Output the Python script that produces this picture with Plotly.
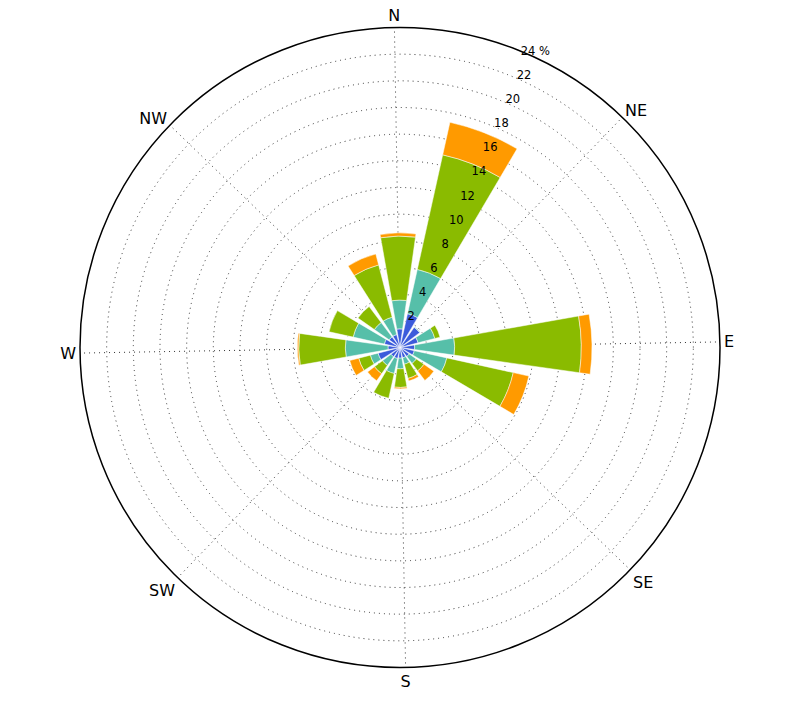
import plotly.graph_objects as go

directions = ["N", "NNE", "NE", "ENE", "E", "ESE", "SE", "SSE",
              "S", "SSW", "SW", "WSW", "W", "WNW", "NW", "NNW"]
theta_deg = [0, 22.5, 45, 67.5, 90, 112.5, 135, 157.5,
             180, 202.5, 225, 247.5, 270, 292.5, 315, 337.5]

# frequency (%) per speed bin, stacked
bin1 = [1.4, 2.6, 1.85, 1.4, 1.1, 1.1, 0.85, 0.8, 0.8, 0.85, 0.85, 1.7, 0.9, 1.2, 1.0, 1.0]
bin2 = [2.16, 3.4, 0.05, 1.3, 3.0, 2.5, 0.65, 0.5, 0.8, 1.15, 0.8, 0.6, 3.2, 2.4, 1.35, 1.35]
bin3 = [4.8, 8.8, 0.0, 0.4, 9.5, 5.1, 0.7, 1.1, 1.4, 1.9, 0.75, 0.9, 3.5, 1.85, 1.5, 4.05]
bin4 = [0.24, 2.5, 0.0, 0.0, 0.8, 1.2, 0.9, 0.2, 0.1, 0.0, 0.65, 0.7, 0.1, 0.0, 0.0, 0.85]

colors = ["#3b5bdb", "#56bfa9", "#8abb00", "#ff9a00"]
angle_ticks = [0, 45, 90, 135, 180, 225, 270, 315]
angle_labels = ["N", "NE", "E", "SE", "S", "SW", "W", "NW"]
r_ticks = [2, 4, 6, 8, 10, 12, 14, 16, 18, 20, 22, 24]
r_labels = ["2", "4", "6", "8", "10", "12", "14", "16", "18", "20", "22", "24 %"]

fig = go.Figure()
for vals, col in zip([bin1, bin2, bin3, bin4], colors):
    fig.add_trace(go.Barpolar(
        r=vals, theta=theta_deg, width=18,
        marker=dict(color=col, line=dict(color="white", width=0.5)),
        showlegend=False, hoverinfo="skip"))

# radial tick labels, drawn just outside each ring along one bearing
label_theta = 26
fig.add_trace(go.Scatterpolar(
    r=r_ticks, theta=[label_theta] * len(r_ticks),
    mode="text", text=r_labels, textposition="top center",
    textfont=dict(size=11.5, family="DejaVu Sans", color="black"),
    cliponaxis=False, showlegend=False, hoverinfo="skip"))

W, H = 800, 707
fig.update_layout(
    width=W, height=H,
    margin=dict(l=0, r=0, t=0, b=0),
    paper_bgcolor="white",
    font=dict(family="DejaVu Sans", color="black"),
    polar=dict(
        domain=dict(x=[80 / W, 720 / W], y=[39.5 / H, 679.5 / H]),
        bgcolor="white",
        barmode="stack",
        bargap=0,
        angularaxis=dict(
            direction="clockwise", rotation=91,
            tickmode="array", tickvals=angle_ticks, ticktext=angle_labels,
            tickfont=dict(size=16, family="DejaVu Sans"),
            showline=True, linecolor="black", linewidth=1.5,
            showgrid=True, gridcolor="#333", griddash="1px,4px", gridwidth=1,
            ticks="",
        ),
        radialaxis=dict(
            range=[0, 24], angle=67,
            tickmode="array", tickvals=r_ticks,
            showticklabels=False,
            showline=False, ticks="",
            showgrid=True, gridcolor="#333", griddash="1px,4px", gridwidth=1,
        ),
    ),
)

fig.write_html("out.html",
               config={"displayModeBar": False},
               post_script="document.body.style.margin='0';document.body.style.overflow='hidden';")
